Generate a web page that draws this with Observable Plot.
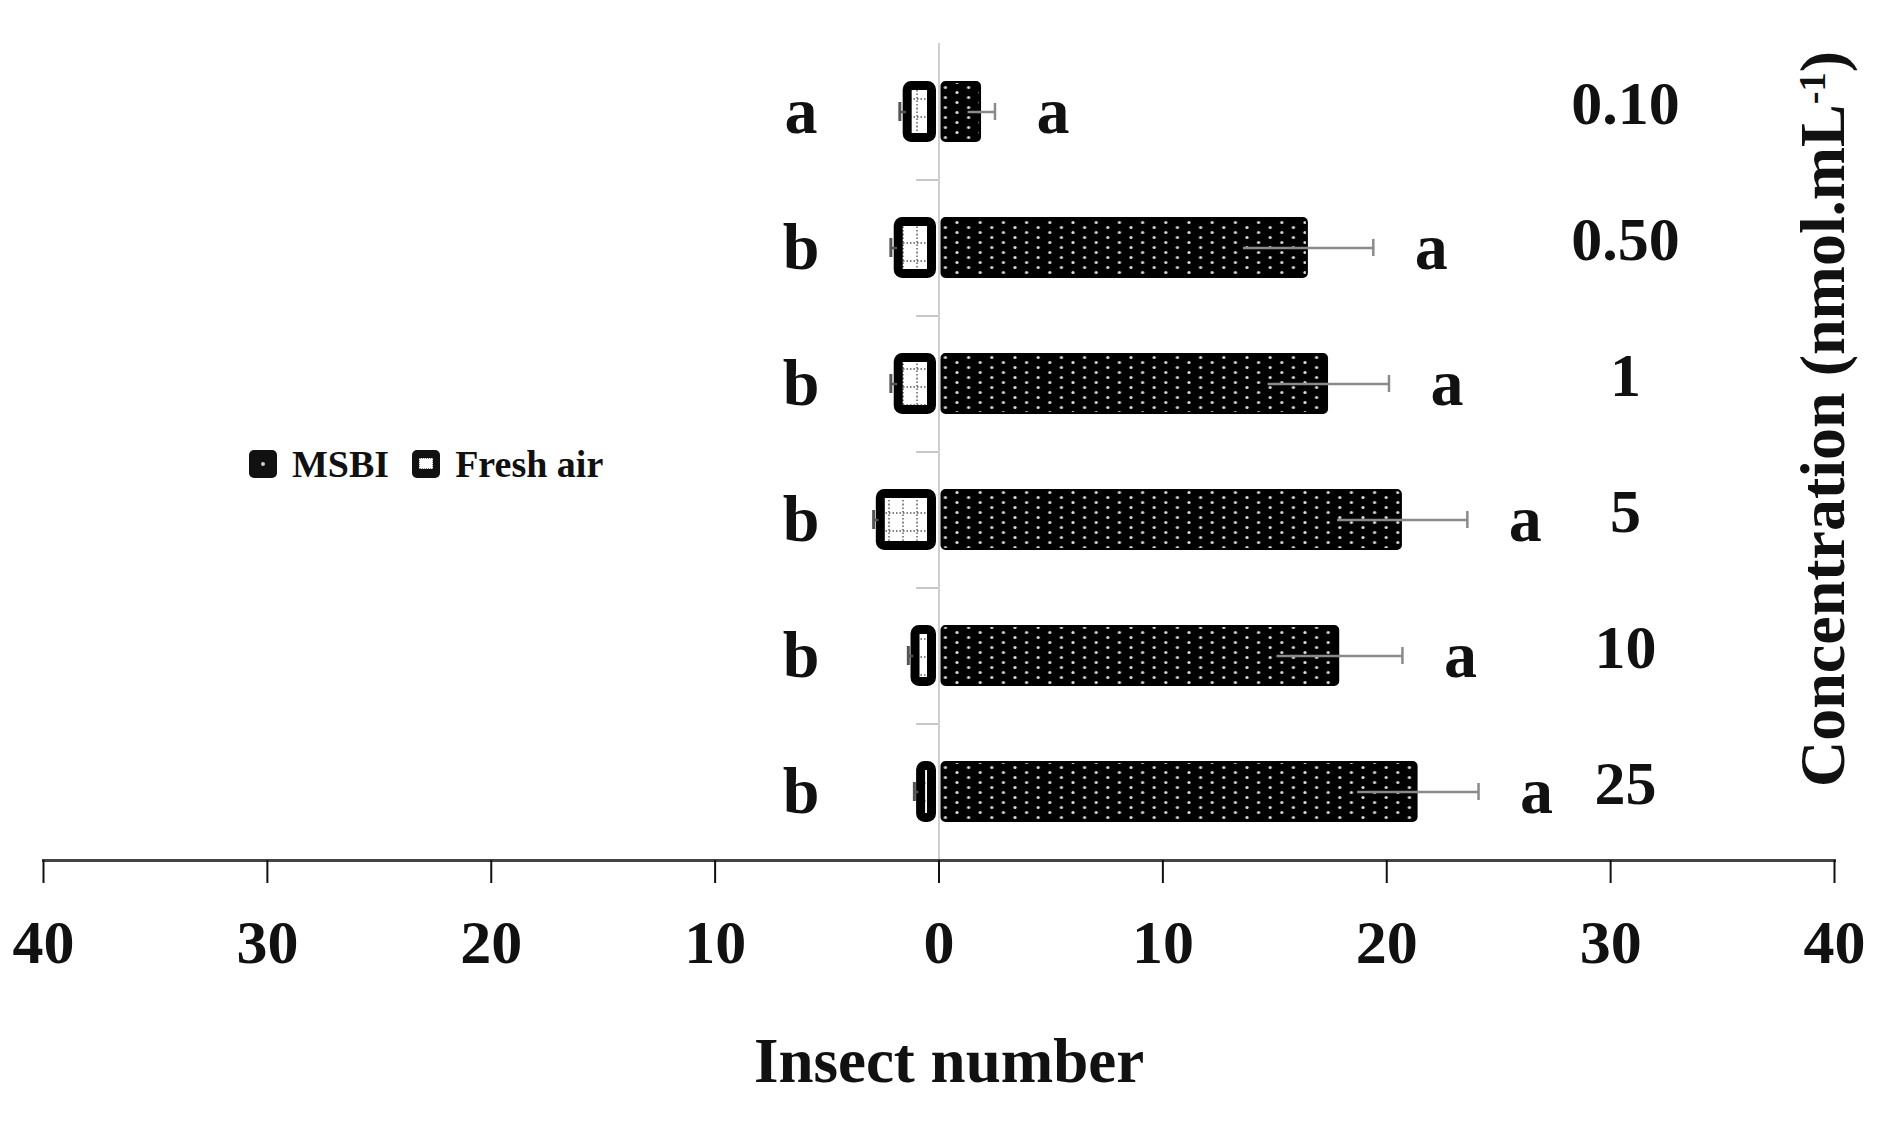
<!DOCTYPE html>
<html>
<head>
<meta charset="utf-8">
<script src="https://cdn.jsdelivr.net/npm/d3@7"></script>
<script src="https://cdn.jsdelivr.net/npm/@observablehq/plot@0.6"></script>
<style>
  body { margin: 0; background: #fff; }
  #wrap { position: relative; width: 1887px; height: 1142px; }
  #legend { position: absolute; left: 249px; top: 442px; display: flex; align-items: center;
    font-family: "Liberation Serif", "Times New Roman", serif; font-weight: bold; font-size: 38px; color: #111; line-height: 44px; }
  .sw { width: 28px; height: 28px; background: #111; border-radius: 5px; position: relative; }
  .sw.msbi::after { content: ""; position: absolute; left: 12px; top: 12px; width: 4px; height: 4px; background: #ccc; border-radius: 2px; }
  .sw.fresh::after { content: ""; position: absolute; left: 7px; top: 8px; width: 14px; height: 11px; background: #fff; border: 1px dotted #888; box-sizing: border-box; }
  .lab { margin-left: 15px; margin-right: 23px; }
</style>
</head>
<body>
<svg width="0" height="0" style="position:absolute">
  <defs>
    <pattern id="msbiPat" patternUnits="userSpaceOnUse" width="23.2" height="10">
      <rect width="23.2" height="10" fill="#000"/>
      <circle cx="5.8" cy="2.5" r="1.6" fill="#d8d8d8"/>
      <circle cx="17.4" cy="7.5" r="1.6" fill="#d8d8d8"/>
    </pattern>
    <pattern id="freshPat" patternUnits="userSpaceOnUse" width="14" height="18">
      <rect width="14" height="18" fill="#fff"/>
      <line x1="7" y1="0" x2="7" y2="18" stroke="#555" stroke-width="1.4" stroke-dasharray="1.5,2"/>
      <line x1="0" y1="9" x2="14" y2="9" stroke="#555" stroke-width="1.4" stroke-dasharray="1.5,2"/>
    </pattern>
  </defs>
</svg>
<div id="wrap">
  <div id="chart"></div>
  <div id="legend">
    <div class="sw msbi"></div><span class="lab">MSBI</span>
    <div class="sw fresh"></div><span class="lab">Fresh air</span>
  </div>
</div>
<script>
// ---- data ----
const concentrations = ["0.10", "0.50", "1", "5", "10", "25"];
const msbiMean = [1.9, 16.5, 17.4, 20.7, 17.9, 21.4];
const msbiSE = [0.6, 2.9, 2.7, 2.9, 2.8, 2.7];
const freshMean = [1.6, 2.0, 2.0, 2.8, 1.25, 1.0];
const freshSE = [0.15, 0.15, 0.15, 0.12, 0.12, 0.1];
const msbiLetters = ["a", "a", "a", "a", "a", "a"];
const freshLetters = ["a", "b", "b", "b", "b", "b"];
const xTicks = [-40, -30, -20, -10, 0, 10, 20, 30, 40];
const xTitle = "Insect number";
const yTitleMain = "Concentration (nmol.mL";
const yTitleSup = "-1";
const yTitleEnd = ")";

const data = concentrations.map((c, i) => ({
  conc: c, msbi: msbiMean[i], msbiSe: msbiSE[i],
  fresh: freshMean[i], freshSe: freshSE[i],
  lm: msbiLetters[i], lf: freshLetters[i]
}));

const font = '"Liberation Serif", "Times New Roman", serif';

const chart = Plot.plot({
  width: 1887,
  height: 1142,
  marginLeft: 43,
  marginRight: 53,
  marginTop: 43,
  marginBottom: 282,
  x: { domain: [-40, 40] },
  y: { domain: concentrations, paddingInner: 0.55, paddingOuter: 0.275 },
  style: { fontFamily: font, background: "#fff", color: "#111", overflow: "visible" },
  marks: [
    // category boundary ticks
    Plot.ruleY(concentrations.slice(0, -1), { y: d => d, x1: -1, x2: 0, dy: 68, stroke: "#c8c8c8", strokeWidth: 2 }),
    // zero line
    Plot.ruleX([0], { stroke: "#d0d0d0", strokeWidth: 2 }),
    // fresh air bars (left)
    Plot.barX(data, { y: "conc", x1: d => -d.fresh, x2: 0, fill: "url(#freshPat)", stroke: "#000", strokeWidth: 9,
      insetTop: 4.5, insetBottom: 4.5, insetLeft: 4.5, insetRight: 7, rx: 4 }),
    // MSBI bars (right)
    Plot.barX(data, { y: "conc", x1: 0, x2: "msbi", fill: "url(#msbiPat)", stroke: "#000", strokeWidth: 2,
      insetTop: 1, insetBottom: 1, insetLeft: 3, insetRight: 1, rx: 4 }),
    // MSBI error bars
    Plot.ruleY(data, { y: "conc", x1: d => d.msbi - d.msbiSe, x2: d => d.msbi + d.msbiSe, stroke: "#8a8a8a", strokeWidth: 2.5 }),
    Plot.tickX(data, { y: "conc", x: d => d.msbi + d.msbiSe, stroke: "#8a8a8a", strokeWidth: 2.5, insetTop: 22, insetBottom: 22 }),
    // fresh air error bars
    Plot.ruleY(data, { y: "conc", x1: d => -(d.fresh + d.freshSe), x2: d => -(d.fresh - d.freshSe), stroke: "#555", strokeWidth: 2.5 }),
    Plot.tickX(data, { y: "conc", x: d => -(d.fresh + d.freshSe), stroke: "#555", strokeWidth: 3, insetTop: 21, insetBottom: 21 }),
    // significance letters
    Plot.text(data, { y: "conc", x: d => d.msbi + d.msbiSe, text: "lm", dx: 58, fontSize: 66, fontWeight: "bold", fill: "#111" }),
    Plot.text(data, { y: "conc", x: 0, text: "lf", dx: -138, fontSize: 66, fontWeight: "bold", fill: "#111" }),
    // bottom axis
    Plot.frame({ anchor: "bottom", stroke: "#444", strokeWidth: 3 }),
    Plot.axisX({ ticks: xTicks, tickFormat: d => Math.abs(d), tickSize: 23, tickPadding: 35, fontSize: 62,
      fontWeight: "bold", color: "#111", strokeWidth: 2, label: null }),
    // concentration labels (right)
    Plot.axisY({ anchor: "right", tickSize: 0, tickPadding: 0, dx: -209, dy: -8, textAnchor: "middle",
      fontSize: 62, fontWeight: "bold", color: "#111", label: null }),
    // axis titles
    Plot.text([xTitle], { text: d => d, frameAnchor: "bottom", textAnchor: "middle", lineAnchor: "middle",
      dx: 10, dy: 201, fontSize: 63, fontWeight: "bold", fill: "#111" }),
    Plot.text([yTitleMain + yTitleSup + yTitleEnd], { text: d => d, frameAnchor: "right", textAnchor: "middle", lineAnchor: "middle",
      rotate: -90, dx: -11, dy: -33, fontSize: 64, fontWeight: "bold", fill: "#111", className: "ytitle" })
  ]
});
document.getElementById("chart").appendChild(chart);

// turn the "-1" of the unit into a real superscript
d3.select(chart).selectAll("text").each(function () {
  const t = d3.select(this);
  if (t.text() === yTitleMain + yTitleSup + yTitleEnd) {
    t.text(null);
    t.append("tspan").text(yTitleMain);
    t.append("tspan").attr("dy", "-0.5em").attr("font-size", "0.6em").text(yTitleSup);
    t.append("tspan").attr("dy", "0.3em").text(yTitleEnd);
  }
});
</script>
</body>
</html>
